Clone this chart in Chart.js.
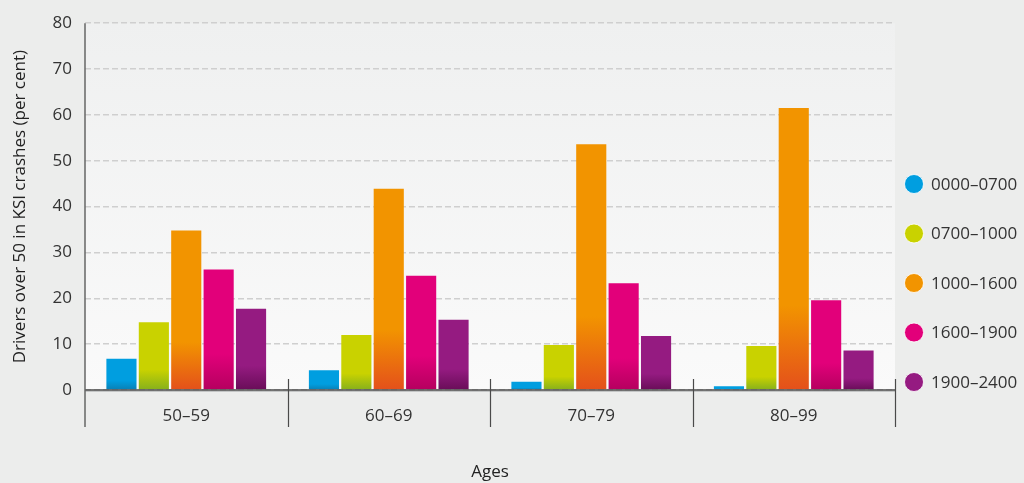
<!DOCTYPE html>
<html>
<head>
<meta charset="utf-8">
<script src="https://cdn.jsdelivr.net/npm/chart.js@4/dist/chart.umd.min.js"></script>
<style>
  html, body { margin: 0; padding: 0; background: #ecedec; }
  #wrap { width: 1024px; height: 483px; }
</style>
</head>
<body>
<div id="wrap"><canvas id="c" width="1024" height="483"></canvas></div>
<script>
const categories = ['50–59', '60–69', '70–79', '80–99'];
const seriesNames = ['0000–0700', '0700–1000', '1000–1600', '1600–1900', '1900–2400'];
const s0000_0700 = [6.8, 4.3, 1.8, 0.8];
const s0700_1000 = [14.8, 12.0, 9.8, 9.6];
const s1000_1600 = [34.8, 43.9, 53.6, 61.5];
const s1600_1900 = [26.3, 24.9, 23.3, 19.6];
const s1900_2400 = [17.7, 15.3, 11.8, 8.6];
const yTicks = [0, 10, 20, 30, 40, 50, 60, 70, 80];

const seriesValues = [s0000_0700, s0700_1000, s1000_1600, s1600_1900, s1900_2400];
const mainColors = ['#009ee0', '#c9d200', '#f29400', '#e2007a', '#951b81'];
const darkColors = ['#0a7fb3', '#86b01c', '#e4501b', '#b5005f', '#690d58'];
const FONT = "'Open Sans', 'Noto Sans', sans-serif";

function barGradient(i) {
  return function(ctx) {
    const chart = ctx.chart;
    const ys = chart.scales && chart.scales.y;
    if (!chart.chartArea || !ys || ctx.raw == null) return mainColors[i];
    const top = ys.getPixelForValue(ctx.raw);
    const base = ys.getPixelForValue(0);
    if (!isFinite(top) || !isFinite(base) || base - top < 1) return mainColors[i];
    const g = chart.ctx.createLinearGradient(0, top, 0, base);
    g.addColorStop(0, mainColors[i]);
    g.addColorStop(0.7, mainColors[i]);
    g.addColorStop(1, darkColors[i]);
    return g;
  };
}

const datasets = seriesNames.map((name, i) => ({
  label: name,
  data: seriesValues[i],
  backgroundColor: barGradient(i),
  borderWidth: 0,
  categoryPercentage: 0.8,
  barPercentage: 0.93
}));

const decor = {
  id: 'decor',
  beforeDraw(chart) {
    const {ctx, chartArea: a} = chart;
    ctx.save();
    ctx.fillStyle = '#ecedec';
    ctx.fillRect(0, 0, chart.width, chart.height);
    const g = ctx.createLinearGradient(0, a.top, 0, a.bottom);
    g.addColorStop(0, '#eff0f0');
    g.addColorStop(1, '#fafafa');
    ctx.fillStyle = g;
    ctx.fillRect(a.left, a.top, a.right - a.left, a.bottom - a.top);
    ctx.restore();
  },
  afterDatasetsDraw(chart) {
    const {ctx, chartArea: a, scales: {x}} = chart;
    ctx.save();
    ctx.strokeStyle = '#c4c6c6';
    ctx.lineWidth = 1;
    ctx.beginPath();
    ctx.moveTo(a.left, a.bottom + 1.5);
    ctx.lineTo(a.right, a.bottom + 1.5);
    ctx.stroke();
    ctx.strokeStyle = '#4a4a4a';
    ctx.lineWidth = 1.5;
    ctx.beginPath();
    ctx.moveTo(a.left, a.bottom);
    ctx.lineTo(a.right, a.bottom);
    ctx.stroke();
    ctx.strokeStyle = '#666';
    ctx.lineWidth = 1.5;
    ctx.beginPath();
    ctx.moveTo(a.left, a.top);
    ctx.lineTo(a.left, a.bottom + 37);
    ctx.stroke();
    ctx.strokeStyle = '#4a4a4a';
    ctx.lineWidth = 1.2;
    const n = categories.length;
    const w = (x.right - x.left) / n;
    for (let i = 1; i <= n; i++) {
      const px = Math.round(x.left + i * w) + 0.5;
      ctx.beginPath();
      ctx.moveTo(px, a.bottom - 11);
      ctx.lineTo(px, a.bottom + 37);
      ctx.stroke();
    }
    ctx.restore();
  },
  afterDraw(chart) {
    const {ctx, chartArea: a} = chart;
    ctx.save();
    ctx.font = '17px ' + FONT;
    ctx.textBaseline = 'middle';
    ctx.textAlign = 'left';
    const n = seriesNames.length;
    for (let i = 0; i < n; i++) {
      const cy = a.bottom - 8 - (n - 1 - i) * 49.5;
      const cx = a.right + 19;
      ctx.beginPath();
      ctx.arc(cx, cy, 9.5, 0, Math.PI * 2);
      ctx.fillStyle = mainColors[i];
      ctx.fill();
      ctx.strokeStyle = 'rgba(255,255,255,0.8)';
      ctx.lineWidth = 1;
      ctx.stroke();
      ctx.fillStyle = '#333';
      ctx.fillText(seriesNames[i], cx + 17, cy + 1);
    }
    ctx.restore();
  }
};

new Chart(document.getElementById('c'), {
  type: 'bar',
  data: { labels: categories, datasets },
  options: {
    responsive: false,
    devicePixelRatio: 1,
    animation: false,
    layout: { padding: { top: 21, right: 129, left: 0, bottom: 0 } },
    plugins: { legend: { display: false }, tooltip: { enabled: false } },
    scales: {
      x: {
        afterFit(s) { s.height = 93; },
        grid: { display: false, drawTicks: false },
        border: { display: false },
        ticks: { color: '#333', font: { family: FONT, size: 17 }, padding: 16 },
        title: { display: true, text: 'Ages', color: '#222', font: { family: FONT, size: 17 }, padding: { top: 0, bottom: 1 } }
      },
      y: {
        min: 0, max: 80,
        afterFit(s) { s.width = 85; },
        afterBuildTicks(s) { s.ticks = yTicks.map(v => ({ value: v })); },
        grid: { color: '#cfcfcf', lineWidth: 1.5, drawTicks: false },
        border: { display: false, dash: [6, 3] },
        ticks: { color: '#333', font: { family: FONT, size: 17 }, padding: 13 },
        title: { display: true, text: 'Drivers over 50 in KSI crashes (per cent)', color: '#222', font: { family: FONT, size: 17 }, padding: { top: 10, bottom: 0 } }
      }
    }
  },
  plugins: [decor]
});
</script>
</body>
</html>
